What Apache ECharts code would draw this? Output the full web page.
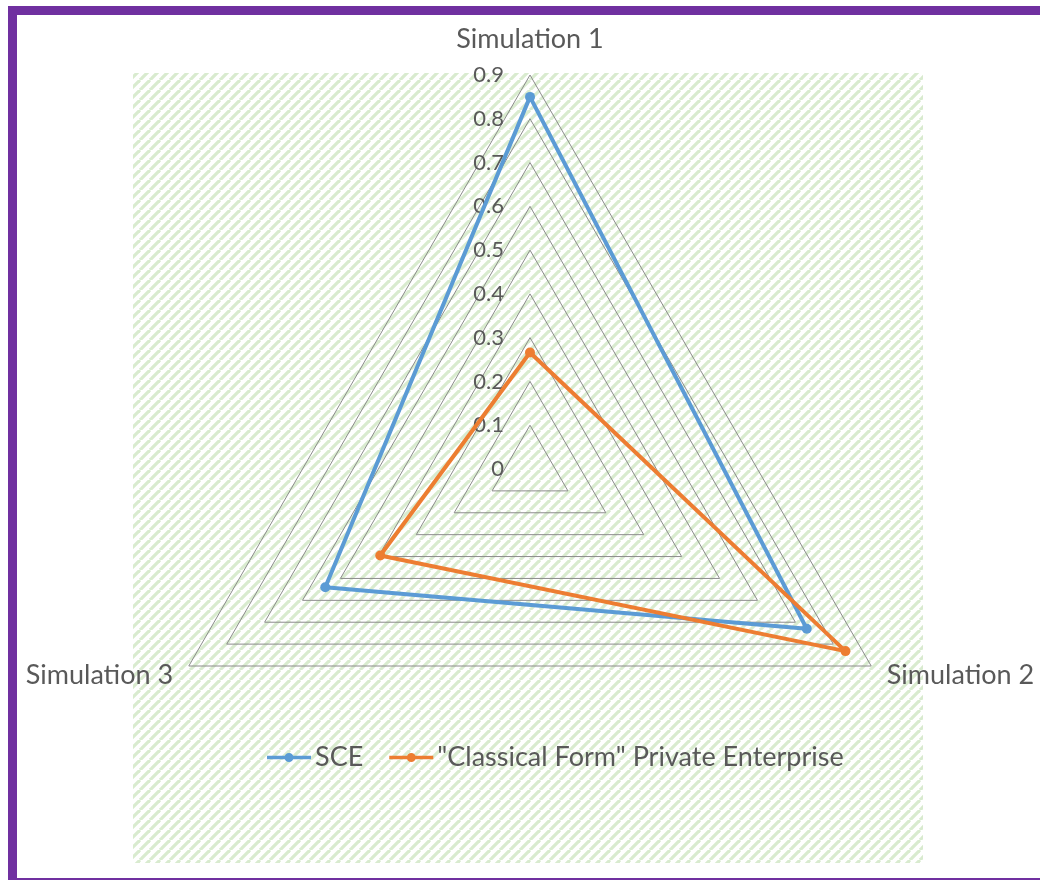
<!DOCTYPE html>
<html>
<head>
<meta charset="utf-8">
<script src="https://cdn.jsdelivr.net/npm/echarts@6/dist/echarts.min.js"></script>
<style>
html,body{margin:0;padding:0;background:#fff;}
#chart{width:1040px;height:880px;}
</style>
</head>
<body>
<div id="chart"></div>
<script>
// ---- data ----
var categories = ['Simulation 1', 'Simulation 2', 'Simulation 3'];
var seriesNames = ['SCE', '"Classical Form" Private Enterprise'];
var sceValues = [0.85, 0.73, 0.54];
var privateValues = [0.266, 0.832, 0.395];
var tickValues = [0, 0.1, 0.2, 0.3, 0.4, 0.5, 0.6, 0.7, 0.8, 0.9];
var axisMax = 0.9;

// radar goes counter-clockwise; Excel goes clockwise -> reorder
var order = [0, 2, 1];
function reorder(arr) { return order.map(function (i) { return arr[i]; }); }

var FONT = 'Lato';
var TXT = '#595959';

// hatch pattern
var P = 10;
var pc = document.createElement('canvas');
pc.width = P; pc.height = P;
var g = pc.getContext('2d');
g.strokeStyle = '#d9ebcf';
g.lineWidth = 3.2;
[-P, 0, P].forEach(function (x) {
  g.beginPath(); g.moveTo(x, P); g.lineTo(x + P, 0); g.stroke();
});

var legendIcon = 'path://M0,3.2 L44,3.2 L44,6.8 L0,6.8 Z M17.5,5 A4.5,4.5 0 1,1 26.5,5 A4.5,4.5 0 1,1 17.5,5 Z';

var chart = echarts.init(document.getElementById('chart'), null, {renderer: 'canvas'});
var option = {
  backgroundColor: '#fff',
  animation: false,
  graphic: [
    {type: 'rect', z: -10, silent: true, shape: {x: 133, y: 73, width: 790, height: 790},
     style: {fill: {type: 'pattern', image: pc, repeat: 'repeat'}}},
    {type: 'rect', z: 100, silent: true, shape: {x: 8, y: 6, width: 1032, height: 9}, style: {fill: '#7030A0'}},
    {type: 'rect', z: 100, silent: true, shape: {x: 8, y: 6, width: 9, height: 874}, style: {fill: '#7030A0'}},
    {type: 'rect', z: 100, silent: true, shape: {x: 8, y: 878, width: 1032, height: 2}, style: {fill: '#7030A0'}}
  ],
  legend: {
    left: 262, top: 739,
    itemWidth: 44, itemHeight: 10, itemGap: 26,
    icon: legendIcon,
    textStyle: {fontFamily: FONT, fontSize: 27, color: TXT, padding: [0, 0, 0, -1]},
    data: seriesNames
  },
  grid: {left: 510, top: 75, width: 10, height: 394, show: false},
  xAxis: {type: 'value', show: false},
  yAxis: {
    type: 'value', min: 0, max: axisMax, interval: 0.1,
    axisLine: {show: false}, axisTick: {show: false}, splitLine: {show: false},
    axisLabel: {fontFamily: FONT, fontSize: 22, color: TXT, margin: 6,
      formatter: function (v) { return String(+v.toFixed(1)); }}
  },
  radar: {
    center: [530, 469],
    radius: 394,
    startAngle: 90,
    shape: 'polygon',
    splitNumber: 9,
    indicator: reorder(categories).map(function (c) { return {name: c, min: 0, max: axisMax}; }),
    axisName: {
      fontFamily: FONT, fontSize: 27, color: TXT,
      formatter: function (name) {
        return name === categories[0] ? '{top|' + name + '}' : name;
      },
      rich: {top: {fontFamily: FONT, fontSize: 27, color: TXT, padding: [0, 0, 4, 0]}}
    },
    nameGap: 18,
    axisLine: {show: false},
    axisTick: {show: false},
    splitLine: {lineStyle: {color: '#8c8c8c', width: 1}},
    splitArea: {show: false}
  },
  series: [{
    type: 'radar',
    symbol: 'circle',
    symbolSize: 10,
    data: [
      {name: seriesNames[0], value: reorder(sceValues),
       lineStyle: {color: '#5B9BD5', width: 4}, itemStyle: {color: '#5B9BD5'}},
      {name: seriesNames[1], value: reorder(privateValues),
       lineStyle: {color: '#ED7D31', width: 4}, itemStyle: {color: '#ED7D31'}}
    ]
  }]
};
chart.setOption(option);
</script>
</body>
</html>
